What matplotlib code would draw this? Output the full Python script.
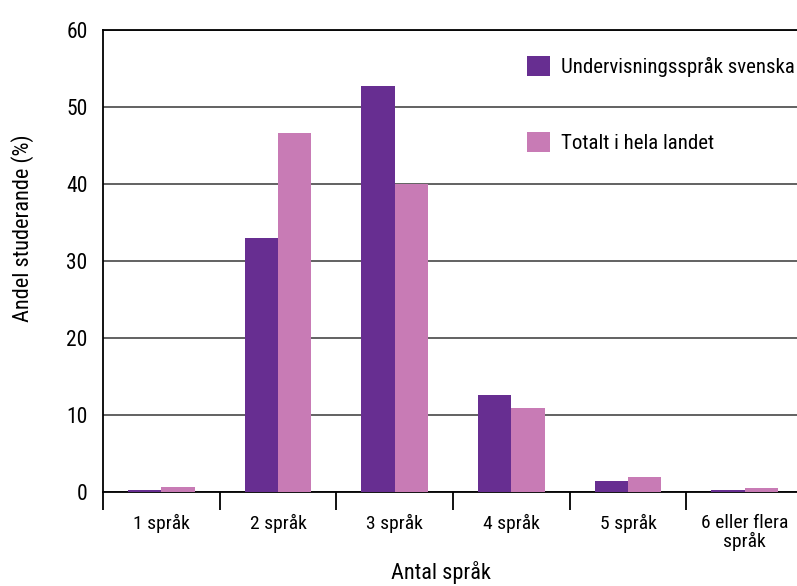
import numpy as np
import matplotlib
matplotlib.use("Agg")
import matplotlib.pyplot as plt
from matplotlib import font_manager

# pick a narrow face if one is installed, else plain DejaVu Sans
narrow = None
for f in font_manager.fontManager.ttflist:
    if f.name in ('Liberation Sans Narrow', 'Roboto Condensed', 'Open Sans Condensed'):
        narrow = (f.name, 'normal')
        break
    if f.name == 'DejaVu Sans' and f.stretch in ('condensed', 'semi-condensed', 600, 500):
        narrow = ('DejaVu Sans', 'condensed')
if narrow is None:
    narrow = ('DejaVu Sans', 'normal')
    scale = 0.78
else:
    scale = 1.0
plt.rcParams['font.family'] = [narrow[0], 'DejaVu Sans']
plt.rcParams['font.stretch'] = narrow[1]

# data
categories = ['1 språk', '2 språk', '3 språk', '4 språk', '5 språk', '6 eller flera\nspråk']
svenska = [0.3, 33.0, 52.7, 12.6, 1.4, 0.3]
totalt = [0.6, 46.6, 40.0, 10.9, 1.9, 0.5]
series_names = ['Undervisningsspråk svenska', 'Totalt i hela landet']

purple = '#672e91'
pink = '#c87bb5'

fig = plt.figure(figsize=(7.97, 5.86), dpi=100)
ax = fig.add_axes([103/797, 94/586, 700/797, 462/586])

x = np.arange(len(categories))
w = 0.287
ax.bar(x - w/2, svenska, w, color=purple, label=series_names[0], zorder=3)
ax.bar(x + w/2, totalt, w, color=pink, label=series_names[1], zorder=3)

ax.set_xlim(-0.5, len(categories) - 0.5)
ax.set_ylim(0, 60)
ax.set_yticks(range(0, 61, 10))
ax.yaxis.grid(True, color='#555555', linewidth=1.3, zorder=0)
ax.set_axisbelow(True)

ax.spines['right'].set_visible(False)
for s in ['left', 'bottom', 'top']:
    ax.spines[s].set_linewidth(1.3)
    ax.spines[s].set_color('black')

ax.tick_params(axis='y', length=0, pad=11, labelsize=15.5 * scale)
ax.set_xticks(x)
ax.set_xticklabels(categories, fontsize=14 * scale, linespacing=0.95)
ax.tick_params(axis='x', which='major', length=0, pad=16)
ax.set_xticks(np.arange(len(categories)) - 0.5, minor=True)
ax.tick_params(axis='x', which='minor', length=13, width=1.3, direction='out')

ax.set_ylabel('Andel studerande (%)', fontsize=16 * scale)
ax.yaxis.set_label_coords(-0.099, 0.571)
ax.set_xlabel('Antal språk', fontsize=16 * scale)
ax.xaxis.set_label_coords(0.483, -0.150)

lfs = 15 * scale
ax.legend(loc='upper left', bbox_to_anchor=(0.606, 0.944), frameon=False,
          fontsize=lfs, handlelength=1.1, handleheight=1.1, labelspacing=2.65,
          handletextpad=0.5, borderaxespad=0, borderpad=0)

fig.savefig('out.png', dpi=100)
